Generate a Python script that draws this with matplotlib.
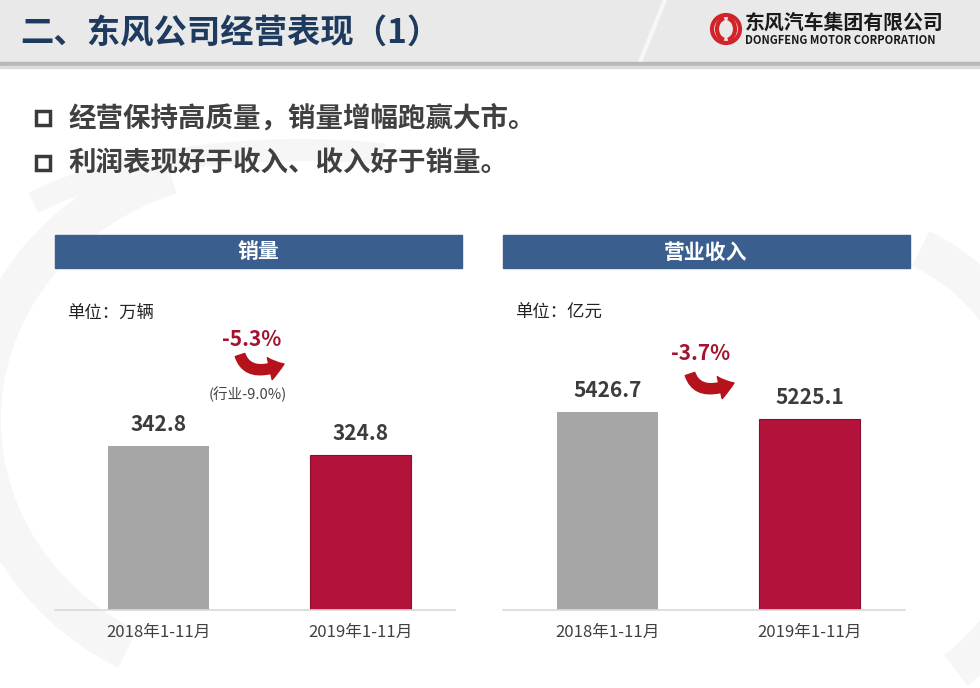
import matplotlib.pyplot as plt
from matplotlib.patches import Rectangle, FancyArrowPatch, Arc, Circle
from matplotlib.path import Path

plt.rcParams['font.family'] = ['Noto Sans CJK SC', 'DejaVu Sans']

# data
periods = ['2018年1-11月', '2019年1-11月']
sales = [342.8, 324.8]          # 万辆
revenue = [5426.7, 5225.1]      # 亿元
sales_change = '-5.3%'
industry_change = '(行业-9.0%)'
revenue_change = '-3.7%'
bullets = ['经营保持高质量，销量增幅跑赢大市。', '利润表现好于收入、收入好于销量。']

bar_colors = ['#a6a6a6', '#b3123b']
navy = '#3a5e8d'
red_txt = '#a3142e'
dark = '#3c3c3c'

W, H = 980, 688
fig = plt.figure(figsize=(W / 100, H / 100), dpi=100)

# overlay in pixel coords for the slide decoration
bg = fig.add_axes([0, 0, 1, 1])
bg.set_xlim(0, W)
bg.set_ylim(H, 0)
bg.axis('off')

# faint watermark swirls
for (cx, cy, w, h, t1, t2, lw) in [(260, 420, 560, 520, 120, 250, 30),
                                   (840, 470, 420, 480, -70, 60, 28),
                                   (300, 300, 700, 300, 200, 300, 16)]:
    bg.add_patch(Arc((cx, cy), w, h, theta1=t1, theta2=t2, color='#f6f6f6', lw=lw))

# header band
bg.add_patch(Rectangle((0, 0), W, 62, color='#e9e9e9', zorder=1))
bg.plot([665, 640], [0, 62], color='#f7f7f7', lw=3, zorder=2)
bg.add_patch(Rectangle((0, 62), W, 4, color='#b8b8b8', zorder=2))
bg.add_patch(Rectangle((0, 66), W, 2, color='#dcdcdc', zorder=2))
bg.text(20, 34, '二、东风公司经营表现（1）', fontsize=24, fontweight='bold',
        color='#1e3a5f', va='center', ha='left', zorder=3)

# logo
bg.add_patch(Circle((726, 29), 14, fill=False, ec='#d2232a', lw=3, zorder=3))
bg.add_patch(Arc((726, 29), 18, 22, theta1=100, theta2=260, color='#d2232a', lw=3, zorder=3))
bg.add_patch(Arc((726, 29), 18, 22, theta1=280, theta2=80, color='#d2232a', lw=3, zorder=3))
bg.text(745, 22, '东风汽车集团有限公司', fontsize=14.3, fontweight='bold',
        color='#1a1a1a', va='center', ha='left', zorder=3)
bg.text(745, 40, 'DONGFENG MOTOR CORPORATION', fontsize=8, fontweight='bold',
        color='#1a1a1a', va='center', ha='left', zorder=3)

# bullets
for i, txt in enumerate(bullets):
    y = 118 + i * 45
    bg.add_patch(Rectangle((36, y - 7), 14, 14, fill=False, ec='#3a3a3a', lw=2.5, zorder=3))
    bg.text(68, y, txt, fontsize=19.8, fontweight='bold', color='#404040',
            va='center', ha='left', zorder=3)

# panel header bars
for x0, title in [(55, '销量'), (503, '营业收入')]:
    bg.add_patch(Rectangle((x0, 235), 407, 33, color=navy, zorder=3))
    bg.text(x0 + 203, 252, title, fontsize=15, fontweight='bold', color='white',
            va='center', ha='center', zorder=4)

bg.text(67, 313, '单位：万辆', fontsize=12.5, color='#222222', va='center', zorder=3)
bg.text(515, 313, '单位：亿元', fontsize=12.5, color='#222222', va='center', zorder=3)

# change labels and curved arrows
bg.text(252, 340, sales_change, fontsize=15, fontweight='bold', color=red_txt,
        ha='center', va='center', zorder=3)
bg.text(248, 394, industry_change, fontsize=10.5, color='#444444',
        ha='center', va='center', zorder=3)
bg.text(701, 353, revenue_change, fontsize=15, fontweight='bold', color=red_txt,
        ha='center', va='center', zorder=3)
for (x0, y0) in [(240, 355), (690, 374)]:
    swoosh = Path([(x0, y0), (x0 + 8, y0 + 24), (x0 + 44, y0 + 9)],
                  [Path.MOVETO, Path.CURVE3, Path.CURVE3])
    bg.add_patch(FancyArrowPatch(path=swoosh,
                                 arrowstyle='simple,head_length=0.6,head_width=0.9,tail_width=0.4',
                                 mutation_scale=18, color='#b5121b', zorder=3))


def bar_panel(rect, values, ymax):
    ax = fig.add_axes(rect)
    ax.patch.set_alpha(0)
    x = range(len(values))
    bars = ax.bar(x, values, width=0.5, color=bar_colors, zorder=2)
    bars[1].set_edgecolor('#8a0f2a')
    bars[1].set_linewidth(0.8)
    for xi, v in zip(x, values):
        ax.annotate(f'{v:.1f}', (xi, v), xytext=(0, 8), textcoords='offset points',
                    ha='center', va='bottom', fontsize=15, fontweight='bold', color=dark)
    ax.set_xlim(-0.515, 1.47)
    ax.set_ylim(0, ymax)
    ax.set_xticks(list(x))
    ax.set_xticklabels(periods, fontsize=12, color='#404040')
    ax.tick_params(axis='x', length=0, pad=10)
    ax.set_yticks([])
    for s in ['top', 'right', 'left']:
        ax.spines[s].set_visible(False)
    ax.spines['bottom'].set_color('#d9d9d9')
    ax.spines['bottom'].set_linewidth(1.2)
    return ax


bar_panel([55 / W, (H - 610) / H, 400 / W, 320 / H], sales, 669)
bar_panel([503 / W, (H - 610) / H, 402 / W, 320 / H], revenue, 8770)

fig.savefig('out.png', dpi=100)
